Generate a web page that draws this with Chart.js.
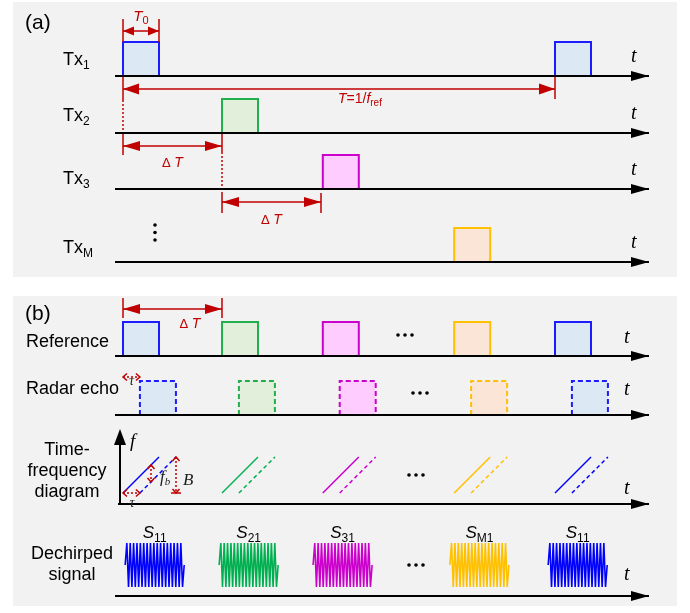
<!DOCTYPE html>
<html>
<head>
<meta charset="utf-8">
<title>MIMO radar timing diagram</title>
<script src="https://cdn.jsdelivr.net/npm/chart.js@4.4.0/dist/chart.umd.min.js"></script>
<style>
  html, body { margin: 0; padding: 0; background: #fff; }
</style>
</head>
<body>
<canvas id="diagram" width="690" height="613"></canvas>
<script>
// Timing data, in units of the pulse width T0
const txSubs = ['1', '2', '3', 'M'];
const txStart = [0, 2.75, 5.55, 9.2];      // Tx1, Tx2, Tx3, TxM
const period = 12;                          // T = 1/f_ref
const pulseWidth = 1;                       // T0
const echoDelay = 0.47;                     // tau
const refStart = [0, 2.75, 5.55, 9.2, 12];  // reference pulses in (b)
const sigStart = [0.06, 2.67, 5.28, 9.08, 11.81];
const sigWidth = 1.64;
const sigSubs = ['11', '21', '31', 'M1', '11'];
const signalWave = [0, 1, -1, 1, -1, 1, -1, 1, -1, 1, -1, 1, -1, 1, -1, 1, -1, 1,
                    -1, 1, -1, 1, -1, 1, -1, 1, -1, 1, -1, 1, -1, 1, -1, 1, -1, 0];

// Layout (pixels)
const W = 690, H = 613;
const unitPx = 36, originPx = 123;
const toT = px => (px - originPx) / unitPx;
const rowsA = [76, 133, 189, 262];
const txLabelY = [65, 121, 184, 253];
const refRow = 356, echoRow = 415, tfRow = 504, sigRow = 596;
const axisStart = toT(115), axisEnd = toT(649);

// Styles
const SANS = '"Liberation Sans", Arial, sans-serif';
const SERIF = '"Liberation Serif", "Times New Roman", serif';
const RED = '#c00000';
const pulseStroke = ['#1c1cff', '#22b04c', '#cc00cc', '#ffc000', '#1c1cff'];
const pulseFill = ['#dde8f5', '#e2efda', '#ffccff', '#fbe5d6', '#dde8f5'];
const waveColor = ['#0000ff', '#00b050', '#cc00cc', '#ffc000', '#0000ff'];

const datasets = [];
const heads = [];
const labels = [];

function line(pts, color, width, dash, order) {
    datasets.push({
        data: pts.map(([x, y]) => ({ x, y })),
        borderColor: color,
        borderWidth: width,
        borderDash: dash || [],
        pointRadius: 0,
        fill: false,
        order: order === undefined ? 1 : order
    });
}

function dots(pts) {
    datasets.push({
        data: pts.map(([x, y]) => ({ x, y })),
        showLine: false,
        pointRadius: 1.8,
        pointBackgroundColor: '#000',
        pointBorderWidth: 0,
        order: 1
    });
}

function box(t0, base, height, k, dash) {
    // fill from the top edge down to the time axis
    datasets.push({
        data: [{ x: t0, y: base - height }, { x: t0 + pulseWidth, y: base - height }],
        borderWidth: 0,
        borderColor: 'transparent',
        backgroundColor: pulseFill[k],
        fill: { value: base },
        pointRadius: 0,
        order: 3
    });
    line([[t0, base], [t0, base - height], [t0 + pulseWidth, base - height],
          [t0 + pulseWidth, base], [t0, base]], pulseStroke[k], 2, dash, 2);
}

function head(t, y, dir, color, len, half, open) {
    heads.push({ t, y, dir, color, len, half, open: !!open });
}

function timeAxis(y, start) {
    line([[start, y], [axisEnd, y]], '#000', 2, null, 0);
    head(axisEnd, y, 'right', '#000', 18, 5);
}

function dArrowH(t1, t2, y, len, half, dash, open) {
    line([[t1, y], [t2, y]], RED, 1.5, dash);
    head(t1, y, 'left', RED, len, half, open);
    head(t2, y, 'right', RED, len, half, open);
}

function label(x, y, parts, opts) {
    labels.push(Object.assign({ x, y, parts, align: 'left', color: '#000' }, opts || {}));
}

// ---------- Panel (a) ----------
txStart.forEach((s, i) => {
    box(s, rowsA[i], 34, i);
    timeAxis(rowsA[i], axisStart);
    label(63, txLabelY[i], [['Tx', `18px ${SANS}`], [txSubs[i], `12px ${SANS}`, 4]]);
    label(631, rowsA[i] - 14, [['t', `italic 20px ${SERIF}`]]);
});
box(period, rowsA[0], 34, 0);

// T0 marker
line([[0, 19], [0, 42]], RED, 1.5);
line([[pulseWidth, 19], [pulseWidth, 42]], RED, 1.5);
dArrowH(0, pulseWidth, 31, 11, 4.5);
label(originPx + unitPx * pulseWidth / 2, 21, [['T', `italic 15px ${SANS}`], ['0', `11px ${SANS}`, 3]], { align: 'center', color: RED });

// T = 1/f_ref
dArrowH(0, period, 89, 16, 5.5);
line([[period, 77], [period, 99]], RED, 1.5);
line([[0, 76], [0, 100]], RED, 1.5);
line([[0, 100], [0, 133]], RED, 1.5, [2, 2]);
line([[0, 133], [0, 155]], RED, 1.5);
label(338, 103, [['T', `italic 14px ${SANS}`], ['=1/', `14px ${SANS}`], ['f', `italic 14px ${SANS}`], ['ref', `10px ${SANS}`, 3]], { color: RED });

// Delta T between Tx1/Tx2 and Tx2/Tx3
const dT = txStart[1] - txStart[0];
dArrowH(0, txStart[1], 146, 17, 5);
line([[txStart[1], 133], [txStart[1], 152]], RED, 1.5);
line([[txStart[1], 152], [txStart[1], 193]], RED, 1.5, [2, 2]);
line([[txStart[1], 193], [txStart[1], 213]], RED, 1.5);
dArrowH(txStart[1], txStart[1] + dT, 202, 17, 5);
line([[txStart[1] + dT, 193], [txStart[1] + dT, 213]], RED, 1.5);
const dTparts = [['\u0394 ', `13px ${SANS}`], ['T', `italic 14px ${SANS}`]];
label(originPx + unitPx * txStart[1] / 2, 167, dTparts, { align: 'center', color: RED });
label(originPx + unitPx * (txStart[1] + dT / 2), 224, dTparts, { align: 'center', color: RED });
dots([[toT(155), 225], [toT(155), 232.5], [toT(155), 240]]);

label(25, 29, [['(a)', `21px ${SANS}`]]);

// ---------- Panel (b) ----------
label(25, 320, [['(b)', `21px ${SANS}`]]);
dArrowH(0, dT, 309, 17, 5);
line([[0, 298], [0, 318]], RED, 1.5);
line([[dT, 298], [dT, 318]], RED, 1.5);
label(190, 328, dTparts, { align: 'center', color: RED });

// Reference pulses
refStart.forEach((s, k) => box(s, refRow, 34, k));
timeAxis(refRow, axisStart);
dots([[toT(398), 335], [toT(405), 335], [toT(412), 335]]);
label(26, 347, [['Reference', `18px ${SANS}`]]);
label(624, refRow - 13, [['t', `italic 20px ${SERIF}`]]);

// Radar echo
refStart.forEach((s, k) => box(s + echoDelay, echoRow, 34, k, [5, 3]));
timeAxis(echoRow, axisStart);
dots([[toT(413), 393], [toT(420), 393], [toT(427), 393]]);
dArrowH(0, echoDelay, 377, 4, 3.5, [2, 2], true);
label(originPx + unitPx * echoDelay / 2, 385, [['\u03c4', `italic 14px ${SERIF}`]], { align: 'center', color: '#222' });
label(26, 394, [['Radar echo', `18px ${SANS}`]]);
label(624, echoRow - 20, [['t', `italic 20px ${SERIF}`]]);

// Time-frequency diagram
const chirpBase = tfRow - 11, chirpTop = tfRow - 47;
refStart.forEach((s, k) => {
    line([[s, chirpBase], [s + pulseWidth, chirpTop]], waveColor[k], 1.5);
    line([[s + echoDelay, chirpBase], [s + echoDelay + pulseWidth, chirpTop]], waveColor[k], 1.5, [4, 3]);
});
line([[toT(118), tfRow], [axisEnd, tfRow]], '#000', 2, null, 0);
head(axisEnd, tfRow, 'right', '#000', 18, 5);
line([[toT(120), tfRow], [toT(120), 440]], '#000', 2, null, 0);
head(toT(120), 429, 'up', '#000', 16, 6);
dots([[toT(409), 475], [toT(416), 475], [toT(423), 475]]);
// tau, f_b and B markers on the first chirp pair
dArrowH(0, echoDelay, chirpBase, 4, 3.5, [2, 2], true);
const fbT = toT(151);
const fbTop = chirpBase - fbT * unitPx, fbBot = chirpBase - (fbT - echoDelay) * unitPx;
line([[fbT, fbTop], [fbT, fbBot]], RED, 1.5, [2, 2]);
head(fbT, fbTop, 'up', RED, 4, 3.5, true);
head(fbT, fbBot, 'down', RED, 4, 3.5, true);
const bT = toT(176);
line([[bT, chirpTop], [bT, chirpBase]], RED, 1.5, [2, 2]);
line([[toT(171), chirpBase], [toT(181), chirpBase]], RED, 1.5);
head(bT, chirpTop, 'up', RED, 4, 3.5, true);
head(bT, chirpBase, 'down', RED, 4, 3.5, true);
label(132, 507, [['\u03c4', `italic 14px ${SERIF}`]], { align: 'center', color: '#222' });
label(160, 482, [['f', `italic 17px ${SERIF}`], ['b', `italic 11px ${SERIF}`, 3]], { color: '#222' });
label(183, 485, [['B', `italic 17px ${SERIF}`]], { color: '#222' });
label(130, 447, [['f', `italic 19px ${SERIF}`]]);
label(67, 455, [['Time-', `18px ${SANS}`]], { align: 'center' });
label(67, 476, [['frequency', `18px ${SANS}`]], { align: 'center' });
label(67, 497, [['diagram', `18px ${SANS}`]], { align: 'center' });
label(624, tfRow - 10, [['t', `italic 20px ${SERIF}`]]);

// Dechirped signals
const sigMid = 565, sigAmp = 22;
sigStart.forEach((s, k) => {
    const n = signalWave.length;
    line(signalWave.map((v, i) => [s + sigWidth * i / (n - 1), sigMid - v * sigAmp]), waveColor[k], 1.6);
    label(originPx + unitPx * (s + sigWidth / 2), 538,
          [['S', `italic 17px ${SANS}`], [sigSubs[k], `12px ${SANS}`, 4]], { align: 'center' });
});
timeAxis(sigRow, axisStart);
dots([[toT(409), 565], [toT(416), 565], [toT(423), 565]]);
label(72, 559, [['Dechirped', `18px ${SANS}`]], { align: 'center' });
label(72, 580, [['signal', `18px ${SANS}`]], { align: 'center' });
label(624, sigRow - 16, [['t', `italic 20px ${SERIF}`]]);

// ---------- Plugins ----------
const panelPlugin = {
    id: 'panels',
    beforeDraw(chart) {
        const ctx = chart.ctx;
        ctx.save();
        ctx.fillStyle = '#ffffff';
        ctx.fillRect(0, 0, W, H);
        ctx.fillStyle = '#f2f2f2';
        ctx.fillRect(13, 2, 664, 275);
        ctx.fillRect(13, 296, 664, 310);
        ctx.restore();
    }
};

function drawHead(ctx, px, py, h) {
    const dirs = { right: [1, 0], left: [-1, 0], up: [0, -1], down: [0, 1] };
    const [dx, dy] = dirs[h.dir];
    const bx = px - dx * h.len, by = py - dy * h.len;
    const ox = dy * h.half, oy = dx * h.half;
    ctx.beginPath();
    ctx.moveTo(bx + ox, by + oy);
    ctx.lineTo(px, py);
    ctx.lineTo(bx - ox, by - oy);
    if (h.open) {
        ctx.strokeStyle = h.color;
        ctx.lineWidth = 1.5;
        ctx.stroke();
    } else {
        ctx.closePath();
        ctx.fillStyle = h.color;
        ctx.fill();
    }
}

const annotationPlugin = {
    id: 'annotations',
    afterDatasetsDraw(chart) {
        const ctx = chart.ctx;
        const xs = chart.scales.x, ys = chart.scales.y;
        ctx.save();
        heads.forEach(h => drawHead(ctx, xs.getPixelForValue(h.t), ys.getPixelForValue(h.y), h));
        ctx.textBaseline = 'alphabetic';
        labels.forEach(l => {
            ctx.fillStyle = l.color;
            let w = 0;
            l.parts.forEach(p => { ctx.font = p[1]; w += ctx.measureText(p[0]).width; });
            let cx = l.align === 'center' ? l.x - w / 2 : l.x;
            l.parts.forEach(p => {
                ctx.font = p[1];
                ctx.fillText(p[0], cx, l.y + (p[2] || 0));
                cx += ctx.measureText(p[0]).width;
            });
        });
        ctx.restore();
    }
};

new Chart(document.getElementById('diagram'), {
    type: 'line',
    data: { datasets },
    options: {
        responsive: false,
        animation: false,
        events: [],
        layout: { padding: 0, autoPadding: false },
        scales: {
            x: { type: 'linear', min: toT(0), max: toT(W), display: false },
            y: { type: 'linear', min: 0, max: H, reverse: true, display: false }
        },
        plugins: { legend: { display: false }, tooltip: { enabled: false } },
        elements: { point: { radius: 0, hoverRadius: 0 }, line: { tension: 0 } }
    },
    plugins: [panelPlugin, annotationPlugin]
});
</script>
</body>
</html>
